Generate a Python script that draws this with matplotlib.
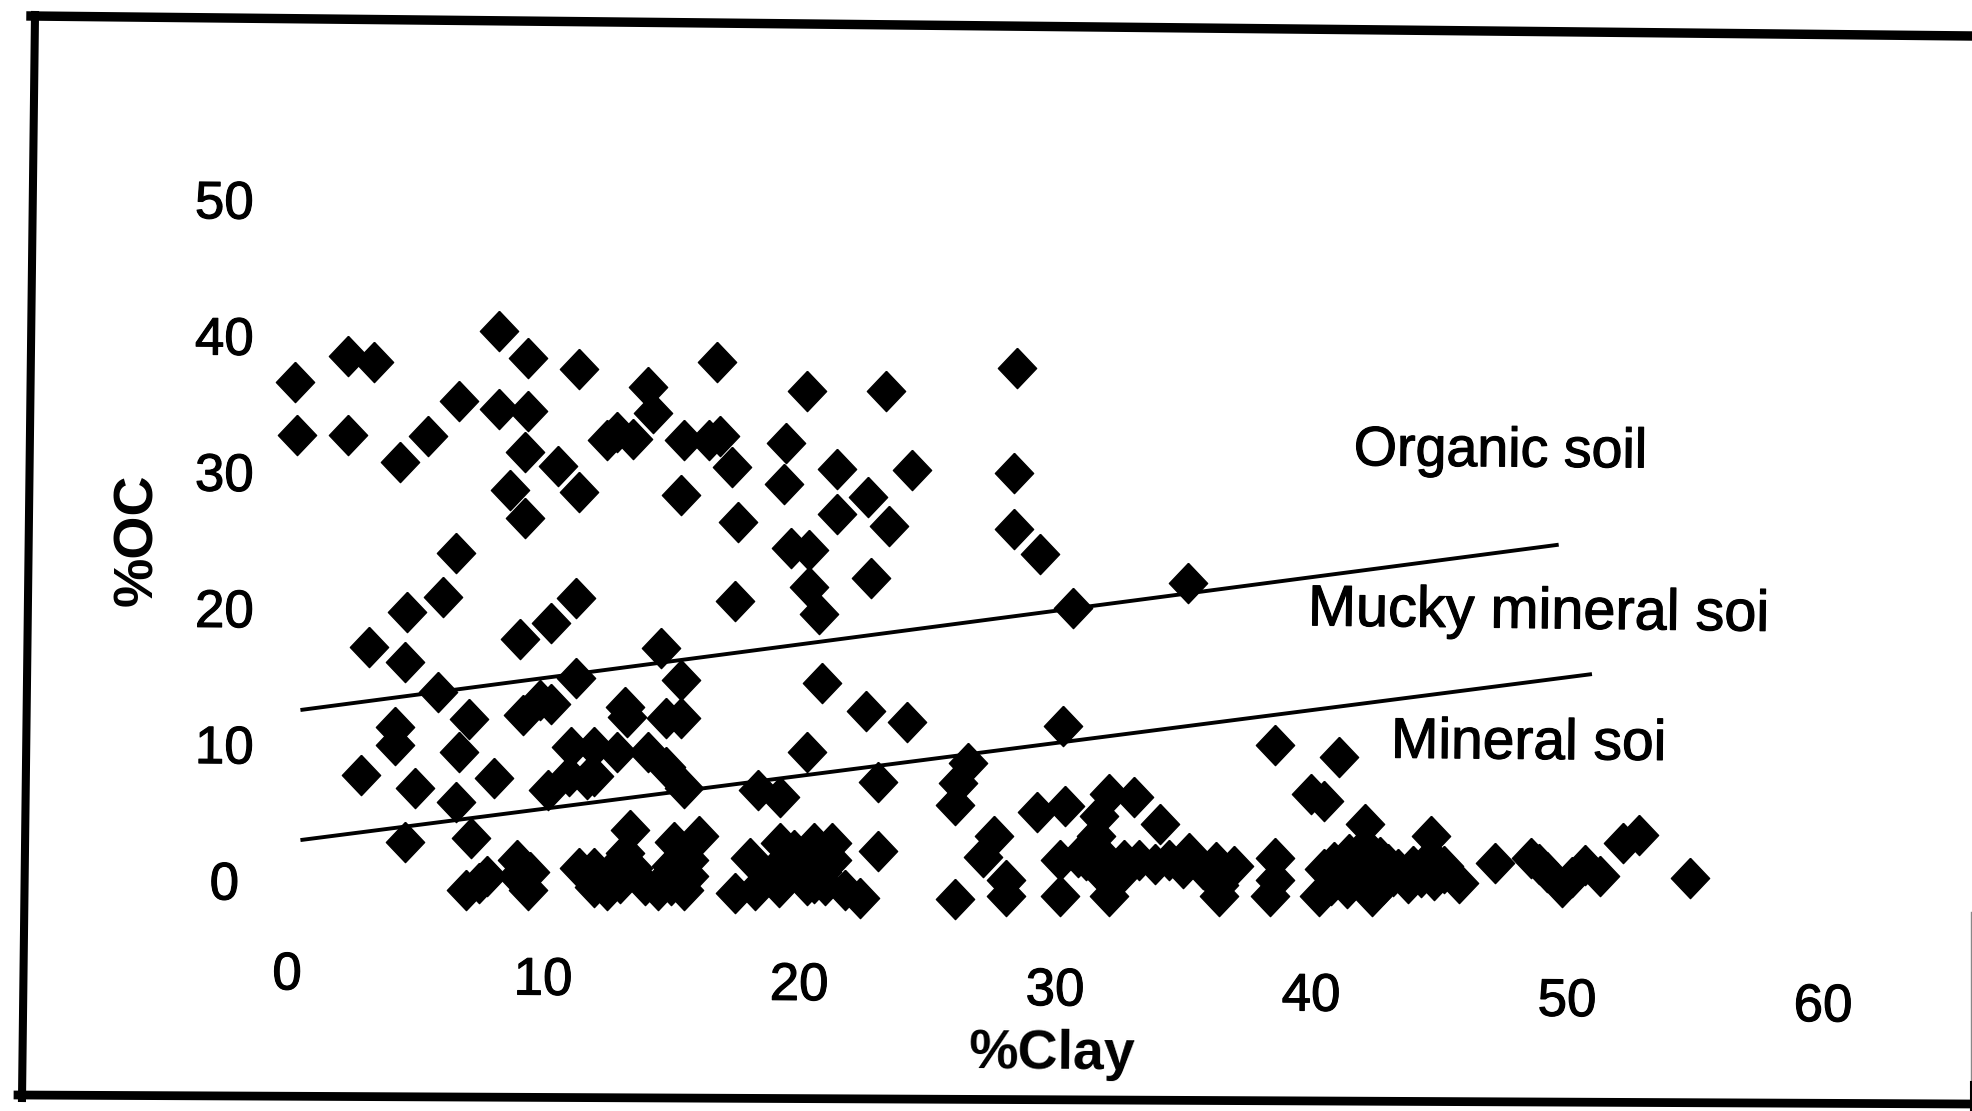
from matplotlib import pyplot as plt
from matplotlib import patheffects as pe
from matplotlib.lines import Line2D

clay = [
    0.3, 0.4, 2.4, 3.4, 4.4, 5.5, 6.7, 2.4, 8.3, 9.4, 11.4, 8.3, 9.4, 9.3, 8.7, 9.3, 10.6, 11.4,
    12.5, 12.9, 13.5, 14.1, 14.3, 15.5, 16.8, 16.5, 16.9, 17.4, 15.4, 17.6, 20.3, 19.5, 19.4,
    21.5, 21.5, 22.7, 23.5, 23.4, 24.4, 19.7, 20.4, 20.4, 20.8, 22.8, 17.5, 28.5, 28.4, 28.4,
    29.4, 30.7, 35.2, 6.6, 6.1, 4.7, 3.2, 4.6, 5.9, 9.1, 10.3, 11.3,
    14.6, 11.3, 15.4, 20.9, 22.6, 24.2, 4.2, 4.2, 7.1, 6.7, 2.9, 5.0, 8.1, 6.6, 9.9, 9.2, 10.3,
    13.2, 13.3, 14.8, 15.4, 11.1, 12.0, 12.9, 14.1, 14.8, 15.5, 11.7, 10.2, 11.0, 12.0, 20.3,
    18.4, 19.25, 23.1, 26.6, 26.2, 26.1, 4.6, 7.2, 7.0, 7.8, 9.0, 9.4, 13.4, 11.4, 12.0, 12.7,
    13.2, 14.5, 15.5, 15.1, 16.1, 15.7, 15.7, 12.5, 19.25, 18.1, 20.6, 21.3, 21.3, 19.7, 17.5,
    19.2, 20.6, 18.3, 21.8, 22.4, 23.1, 26.1,
    30.3, 27.6, 27.2, 28.1, 28.1, 29.3, 30.4, 32.1, 33.1, 31.7, 34.1, 31.6, 30.2, 30.2, 32.1,
    32.7, 30.9, 31.9, 34.45, 35.25, 36.3, 37.0, 36.4, 38.6, 38.4, 38.6, 40.0, 40.5, 38.6, 41.1,
    40.3, 40.5, 42.4, 42.1, 42.1, 41.0, 43.2, 41.6, 44.7, 44.7, 43.8, 45.8, 44.8, 47.2, 48.6,
    49.8, 50.7, 51.3, 52.2, 52.8, 54.8,
    # dense part along the bottom
    12.0, 12.5, 13.0, 13.5, 14.0, 14.8, 15.0, 15.0, 9.5, 9.0, 7.5,
    18.9, 19.5, 20.0, 20.3, 20.9, 19.8, 20.3, 21.0,
    31.2, 31.8, 33.3, 33.9, 35.0, 35.8, 36.5, 36.4, 32.5,
    40.8, 41.4, 41.8, 42.4, 42.8, 43.4, 44.0, 44.3, 45.2, 42.1, 40.9, 41.5, 42.7, 45.2, 43.0,
    49.2, 50.2, 48.9,
]
oc = [
    36.6, 32.7, 38.5, 38.0, 30.7, 32.6, 35.2, 32.7, 40.3, 38.3, 37.5, 34.6, 34.4, 31.4, 28.6, 26.6, 30.4, 28.5,
    32.3, 32.9, 32.4, 36.2, 34.3, 32.3, 38.0, 32.3, 32.6, 30.3, 28.3, 26.3, 35.9, 32.1, 29.1,
    30.2, 26.9, 28.1, 26.0, 35.9, 30.1, 24.4, 24.2, 21.5, 19.5, 22.2, 20.5, 37.6, 29.9, 25.8,
    23.9, 20.0, 21.8, 24.0, 20.8, 19.7, 17.1, 16.0, 13.8, 17.7, 18.9, 20.7,
    17.0, 14.8, 14.65, 14.5, 12.4, 11.6, 11.2, 9.9, 11.8, 9.4, 7.7, 6.75, 7.5, 5.7, 13.2, 12.1, 12.9,
    12.7, 12.0, 11.9, 11.9, 9.8, 9.8, 9.4, 9.4, 8.3, 6.75, 7.4, 6.6, 7.6, 7.6, 9.4,
    6.6, 6.1, 7.2, 8.6, 7.1, 5.5, 2.8, 3.1, -0.7, 0.3, 1.5, -0.7, 3.7, 0.9, -0.5, 0.3,
    2.0, -0.7, -0.7, 2.8, 3.2, 1.5, 0.3, -0.7, 2.7, 1.6, 2.7, 2.7, 1.5, 0.5, -0.95,
    -0.5, -0.2, -0.7, -0.7, -1.3, 2.1, -1.4,
    11.3, 3.2, 1.7, 0.0, -1.2, 5.0, 5.4, 6.3, 6.1, 4.7, 4.1, 3.2, 1.5, -1.2, -1.2,
    1.5, 1.7, 0.3, 1.5, 2.0, 1.3, 1.0, -1.2, 1.6, -1.2, 0.0, 6.3, 5.8, 9.9, 9.0,
    -1.2, 0.8, -1.2, 4.1, 2.5, 0.3, 0.3, 1.0, 3.2, 1.7, -0.2, -0.2, 0.0, 1.25, 1.6,
    -0.5, 1.1, 0.3, 2.7, 3.3, 0.15,
    0.9, 0.4, -0.2, 0.9, -0.4, 0.2, -0.4, 1.0, 0.6, 0.3, -0.2,
    0.5, 1.2, 1.5, 0.6, 0.6, 2.2, -0.4, -0.4,
    1.5, 1.9, 1.5, 1.2, 0.9, 0.8, 0.2, -0.4, 0.3,
    -0.4, -0.6, 0.3, 0.5, -0.3, 0.8, 1.0, 0.2, 0.5, 1.2, 1.3, 1.9, 1.7, 1.0, 1.2,
    0.6, 0.2, 1.2,
]

upper_x = [0.6, 49.6]
upper_y = [12.5, 24.6]
lower_x = [0.6, 50.9]
lower_y = [2.95, 15.1]

x_ticks = [0, 10, 20, 30, 40, 50, 60]
y_ticks = [0, 10, 20, 30, 40, 50]

W, H = 1972, 1111
TILT = -0.45
diamond = [(0, 1), (0.95, 0), (0, -1), (-0.95, 0), (0, 1)]
heavy = [pe.withStroke(linewidth=0.8, foreground='black')]

plt.rcParams['font.family'] = ['Liberation Sans', 'DejaVu Sans']

fig = plt.figure(figsize=(W / 100, H / 100), dpi=100)
ax = fig.add_axes([287 / W, (H - 880) / H, (1823 - 287) / W, (880 - 199) / H])
ax.set_xlim(0, 60)
ax.set_ylim(0, 50)
ax.axis('off')

ax.plot(clay, oc, linestyle='none', marker=diamond, color='black', markersize=29, clip_on=False)
ax.plot(upper_x, upper_y, color='black', lw=2.8, clip_on=False)
ax.plot(lower_x, lower_y, color='black', lw=2.8, clip_on=False)

# scan is a bit rotated so the labels drift downwards to the right
for i, t in enumerate(x_ticks):
    ax.text(t, -7.0 - 0.39 * i, str(t), ha='center', va='center', fontsize=38, rotation=TILT,
            clip_on=False, path_effects=heavy)
for t in y_ticks:
    ax.text(-2.45, t - 0.4, str(t), ha='center', va='center', fontsize=38, rotation=TILT,
            clip_on=False, path_effects=heavy)

ax.text(29.9, -12.8, '%Clay', ha='center', va='center', fontsize=40, fontweight='bold', rotation=TILT)
ax.text(-5.8, 25.0, '%OC', ha='center', va='center', fontsize=40, fontweight='bold', rotation=90)
ax.text(47.4, 31.4, 'Organic soil', ha='center', va='center', fontsize=40, rotation=TILT, path_effects=heavy)
ax.text(48.9, 19.6, 'Mucky mineral soi', ha='center', va='center', fontsize=41.5, rotation=-0.7, path_effects=heavy)
ax.text(48.5, 10.0, 'Mineral soi', ha='center', va='center', fontsize=41, rotation=-0.5, path_effects=heavy)

# page frame from the scan, in pixels
frame = [
    ((31, 16), (W, 36), 6.8, 'black'),
    ((35, 15), (22, 1098), 5.8, 'black'),
    ((18, 1095), (W, 1104), 6.3, 'black'),
    ((1971, 912), (1971, 1082), 1.0, '#888888'),
    ((1971, 1082), (1971, 1111), 1.5, 'black'),
]
for (x0, y0), (x1, y1), lw, col in frame:
    fig.add_artist(Line2D([x0 / W, x1 / W], [1 - y0 / H, 1 - y1 / H], color=col, lw=lw,
                          transform=fig.transFigure))

fig.savefig('out.png', dpi=100)
